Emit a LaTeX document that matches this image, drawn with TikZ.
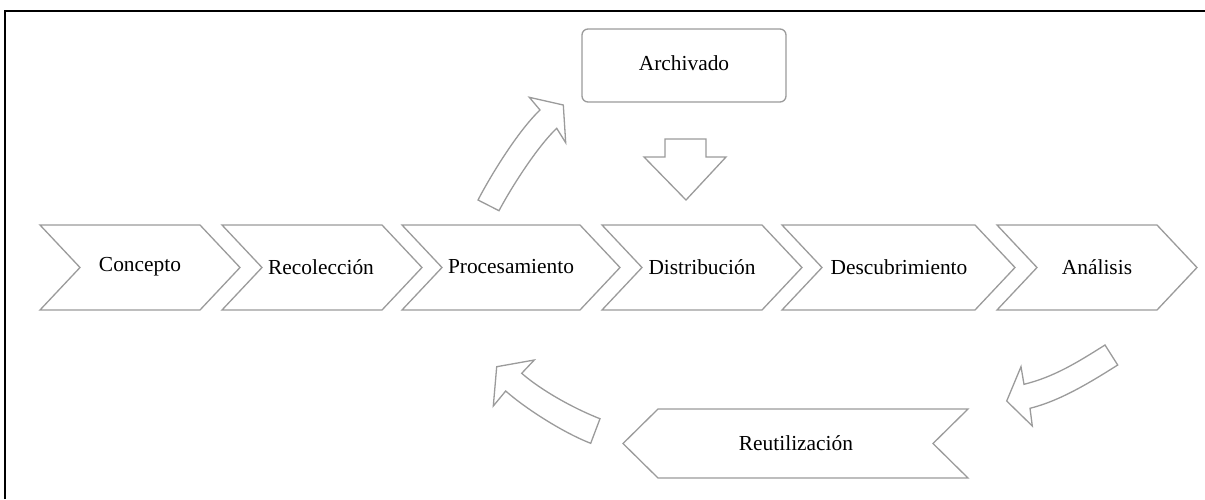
\documentclass[tikz,border=0pt]{standalone}
\usepackage{fontspec}
\setmainfont{Liberation Serif}
\definecolor{linegray}{RGB}{155,155,155}
\begin{document}
\begin{tikzpicture}[x=1pt,y=-1pt,
  shapeline/.style={draw=linegray,line width=1.3pt,fill=white,line join=miter},
  lbl/.style={font=\fontsize{21.4}{24}\selectfont,inner sep=0pt,anchor=center},
  frameline/.style={draw=black,line width=2.2pt}]
\useasboundingbox (0,0) rectangle (1205,499);
% frame
\draw[frameline] (5,499) -- (5,11) -- (1205,11);
% chevrons
\newcommand{\chevshape}[2]{%
  \draw[shapeline] (#1,225) -- (#2,225) -- (#2+40,267.5) -- (#2,310) -- (#1,310) -- (#1+40,267.5) -- cycle;}
\chevshape{40}{200}
\chevshape{222}{382}
\chevshape{402}{580}
\chevshape{602}{762}
\chevshape{782}{975}
\chevshape{997}{1157}
\node[lbl] (concepto) at (140,267) {Concepto};
\node[lbl] (recoleccion) at (321,267) {Recolección};
\node[lbl] (procesamiento) at (511,267) {Procesamiento};
\node[lbl] (distribucion) at (702,267) {Distribución};
\node[lbl] (descubrimiento) at (899,267) {Descubrimiento};
\node[lbl] (analisis) at (1097,267) {Análisis};
% Reutilizacion
\draw[shapeline] (658,409) -- (968,409) -- (933,443.5) -- (968,478) -- (658,478) -- (623,443.5) -- cycle;
\node[lbl] (reutilizacion) at (796,443) {Reutilización};
% Archivado
\draw[shapeline,rounded corners=6pt] (582,29) rectangle (786,102);
\node[lbl] (archivado) at (684,63) {Archivado};
% down block arrow
\draw[shapeline] (665,139) -- (706,139) -- (706,157) -- (726,157) -- (686,200) -- (644,157) -- (665,157) -- cycle;
% curved up arrow (Procesamiento -> Archivado)
\draw[shapeline] (478,200) .. controls (491,175) and (518,131) .. (540,110)
  -- (529.3,97.3) -- (563.3,105) -- (565.7,142.7) -- (556.7,128.3)
  .. controls (537,147) and (511,188) .. (499,210.7) -- cycle;
% curved arrow (Reutilizacion -> Procesamiento)
\draw[shapeline] (600,418.7) .. controls (575,409) and (542,391) .. (521.7,373.3)
  -- (534.3,360) -- (496.7,366.7) -- (493.3,406) -- (505.7,391)
  .. controls (526,409) and (564,433) .. (590.7,443.3) -- cycle;
% curved arrow (Analisis -> Reutilizacion)
\draw[shapeline] (1105,345) .. controls (1078,362) and (1054,377) .. (1024,384.3)
  -- (1021,366.7) -- (1006.7,401) -- (1032.3,426) -- (1030,408.3)
  .. controls (1060,400.8) and (1090,382.5) .. (1117.7,365) -- cycle;
\end{tikzpicture}
\end{document}
